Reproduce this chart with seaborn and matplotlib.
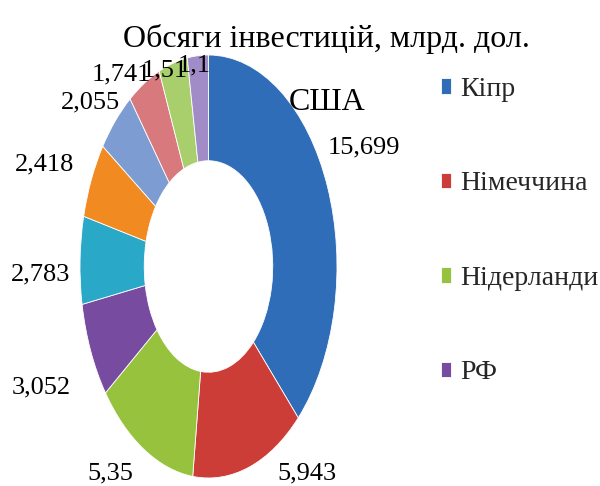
import matplotlib
matplotlib.use("Agg")
import matplotlib.pyplot as plt
import seaborn as sns

# ---- data ----
title = "Обсяги інвестицій, млрд. дол."
legend_names = ["Кіпр", "Німеччина", "Нідерланди", "РФ"]
values = [15.699, 5.943, 5.35, 3.052, 2.783, 2.418, 2.055, 1.741, 1.51, 1.1]
value_labels = ["15,699", "5,943", "5,35", "3,052", "2,783", "2,418",
                "2,055", "1,741", "1,51", "1,1"]
extra_label = "США"

# ---- style ----
colors = ["#2F6DB8", "#CD3D37", "#97C23E", "#774CA0", "#2AA8C8",
          "#F28A22", "#7D9DD2", "#D7797D", "#A8CF6C", "#A28CC8"]

sns.set_theme(style="white")
plt.rcParams["font.family"] = ["Liberation Serif", "DejaVu Serif"]

W, H = 600, 486
fig = plt.figure(figsize=(W / 100, H / 100), dpi=100)
ax = fig.add_axes([0, 0, 1, 1])

# donut geometry in pixels (ellipse: horizontally squeezed)
cx, cy, rx, ry = 208.5, 266.5, 128.5, 211.5

wedges, _ = ax.pie(values, colors=colors, startangle=90, counterclock=False,
                   radius=1.0,
                   wedgeprops=dict(width=0.5, edgecolor="white", linewidth=0.6))
ax.set_aspect("auto")
ax.set_xlim(-cx / rx, (W - cx) / rx)
ax.set_ylim((cy - H) / ry, cy / ry)
ax.axis("off")

# data labels (center x, baseline y in pixels)
label_pos = [(364, 153), (307, 479), (110, 479), (41, 393), (41, 280),
             (45, 170), (90, 108), (121, 80), (165, 76), (194, 71)]
for txt, (px, py) in zip(value_labels, label_pos):
    fig.text(px / W, 1 - py / H, txt, fontsize=19, ha="center", va="baseline",
             color="black")

fig.text(326.5 / W, 1 - 47 / H, title, fontsize=23, ha="center", va="baseline",
         color="black")
fig.text(327 / W, 1 - 110 / H, extra_label, fontsize=23, ha="center",
         va="baseline", color="black")

fig.legend(wedges[:4], legend_names, loc="upper left",
           bbox_to_anchor=(441 / W, 1 - 77 / H), frameon=False, fontsize=20,
           borderpad=0, borderaxespad=0, labelspacing=2.5,
           handlelength=0.35, handleheight=0.5, handletextpad=0.35)

fig.savefig("out.png", dpi=100)
